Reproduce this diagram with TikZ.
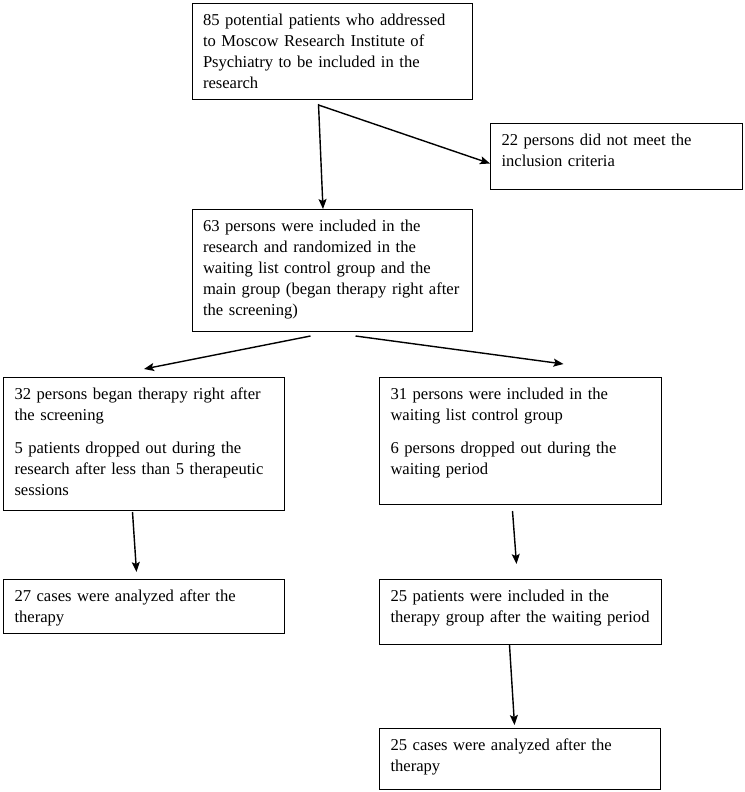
\documentclass[tikz,border=0pt]{standalone}
\usepackage{fontspec}
\setmainfont{Liberation Serif}
\usetikzlibrary{arrows.meta}

\begin{document}
\begin{tikzpicture}[x=1pt, y=-1pt,
    flowbox/.style={draw, rectangle, anchor=north west, line width=1pt,
        inner xsep=11pt, inner ysep=10pt, align=left, text height=12pt,
        font=\fontsize{16.6}{21}\selectfont},
    flowarrow/.style={-{Stealth[length=10pt, width=8pt, inset=2pt]}, line width=1.4pt}]
    \useasboundingbox (0,0) rectangle (744,792);

    % Screening Nodes
    \node (start) [flowbox, text width=258pt, text depth=64pt] at (191.5,3)
        {85 potential patients who addressed\\ to Moscow Research Institute of\\ Psychiatry to be included in the\\ research};
    \node (excl) [flowbox, text width=230pt, text depth=34pt] at (490,123)
        {22 persons did not meet the\\ inclusion criteria};
    \node (incl) [flowbox, text width=258pt, text depth=90pt] at (191.5,209)
        {63 persons were included in the\\ research and randomized in the\\ waiting list control group and the\\ main group (began therapy right after\\ the screening)};

    % Main Group Nodes
    \node (main) [flowbox, text width=259pt, text depth=101pt] at (3,377)
        {32 persons began therapy right after\\ the screening\\[12pt] 5 patients dropped out during the\\ research after less than 5 therapeutic\\ sessions};
    \node (mainres) [flowbox, text width=259pt, text depth=22pt] at (3,579)
        {27 cases were analyzed after the\\ therapy};

    % Waiting List Nodes
    \node (wait) [flowbox, text width=260pt, text depth=95pt] at (379,377)
        {31 persons were included in the\\ waiting list control group\\[12pt] 6 persons dropped out during the\\ waiting period};
    \node (waitther) [flowbox, text width=260pt, text depth=33pt] at (379,579)
        {25 patients were included in the\\ therapy group after the waiting period};
    \node (waitres) [flowbox, text width=259pt, text depth=29pt] at (379,728)
        {25 cases were analyzed after the\\ therapy};

    % Arrows
    \draw[flowarrow] ([xshift=-13.5pt, yshift=-4pt]start.south) -- ([xshift=-9pt]incl.north);
    \draw[flowarrow] ([xshift=-13.5pt, yshift=-5pt]start.south) -- ([yshift=-7pt]excl.west);

    \draw[flowarrow] ([xshift=-21.5pt, yshift=-4pt]incl.south) -- ([yshift=8pt]main.north);
    \draw[flowarrow] ([xshift=23.5pt, yshift=-4pt]incl.south) -- ([xshift=43pt, yshift=13pt]wait.north);

    \draw[flowarrow] ([xshift=-11.5pt, yshift=-1pt]main.south) -- ([xshift=-7.5pt, yshift=7pt]mainres.north);

    \draw[flowarrow] ([xshift=-8pt, yshift=-6pt]wait.south) -- ([xshift=-4pt, yshift=15pt]waitther.north);
    \draw[flowarrow] ([xshift=-11pt]waitther.south) -- ([xshift=-5.5pt, yshift=3pt]waitres.north);
\end{tikzpicture}
\end{document}
